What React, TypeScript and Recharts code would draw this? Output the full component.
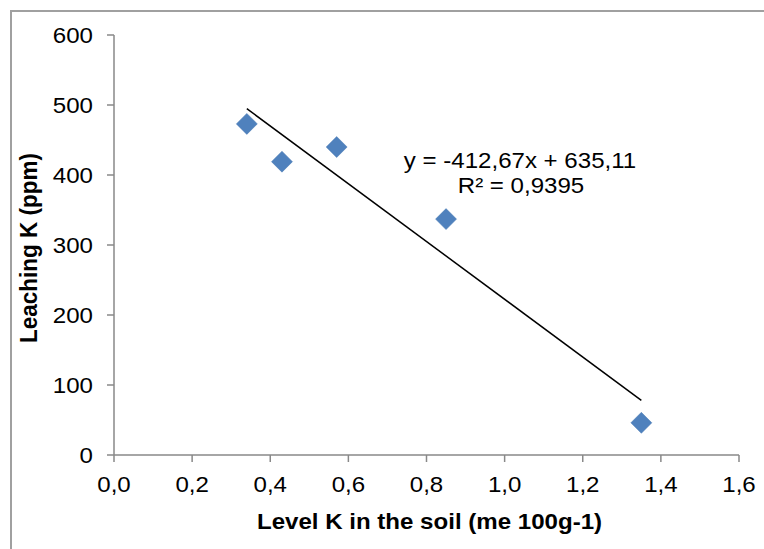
import React from 'react';
import { ScatterChart, Scatter, XAxis, YAxis, Customized } from 'recharts';

// Observed data points (Level K in soil, Leaching K)
const levelK = [0.34, 0.43, 0.57, 0.85, 1.35];
const leachingK = [473, 419, 440, 337, 46];

// Linear trendline from the chart's equation
const slope = -412.67;
const intercept = 635.11;
const trendX = [0.34, 1.35];

const xTicks = [0, 0.2, 0.4, 0.6, 0.8, 1.0, 1.2, 1.4, 1.6];
const yTicks = [0, 100, 200, 300, 400, 500, 600];

const equationText = 'y = -412,67x + 635,11';
const r2Text = 'R² = 0,9395';
const xLabel = 'Level K in the soil (me 100g-1)';
const yLabel = 'Leaching K (ppm)';

const points = levelK.map((x, i) => ({ x, y: leachingK[i] }));
const trend = trendX.map((x) => ({ x, y: slope * x + intercept }));

const FONT = '"Liberation Sans", Arial, sans-serif';
const AXIS_COLOR = '#898989';
const FS = 22.5;
const SX = 1.07;

const SText = (props: any) => {
  const { x, y, anchor = 'middle', bold = false, dy, rotate = false, children } = props;
  const t = rotate
    ? `translate(${x},${y}) scale(${SX},1) rotate(-90)`
    : `translate(${x},${y}) scale(${SX},1)`;
  return (
    <text
      transform={t}
      x={0}
      y={0}
      dy={dy}
      textAnchor={anchor}
      fontFamily={FONT}
      fontSize={FS}
      fontWeight={bold ? 'bold' : 'normal'}
      fill="#000"
    >
      {children}
    </text>
  );
};

const fmt = (v: number) => v.toFixed(1).replace('.', ',');

const XTick = (props: any) => {
  const { x, y, payload } = props;
  return (
    <SText x={x} y={y} anchor="middle" dy="0.71em">
      {fmt(payload.value)}
    </SText>
  );
};

const YTick = (props: any) => {
  const { x, y, payload } = props;
  return (
    <SText x={x} y={y} anchor="end" dy="0.355em">
      {String(payload.value)}
    </SText>
  );
};

const Diamond = (props: any) => {
  const { cx, cy } = props;
  if (cx == null || cy == null) return <g />;
  const r = 10.5;
  return (
    <polygon
      points={`${cx},${cy - r} ${cx + r},${cy} ${cx},${cy + r} ${cx - r},${cy}`}
      fill="#4F81BD"
      stroke="#4A7AB3"
      strokeWidth={0.5}
    />
  );
};

const NoShape = () => <g />;

const Annotation = () => (
  <g>
    <SText x={520} y={167.5}>{equationText}</SText>
    <SText x={521} y={193.3}>{r2Text}</SText>
  </g>
);

export default function App() {
  return (
    <div
      style={{
        position: 'absolute',
        left: 0,
        top: 0,
        width: 764,
        height: 549,
        background: '#fff',
        overflow: 'hidden',
      }}
    >
      <div
        style={{
          position: 'absolute',
          left: 10,
          top: 10,
          width: 800,
          height: 600,
          border: '2px solid #a0a0a0',
          boxSizing: 'border-box',
        }}
      />
      <div style={{ position: 'absolute', left: 0, top: 0 }}>
        <ScatterChart
          width={764}
          height={549}
          margin={{ top: 35, right: 25, bottom: 0, left: 0 }}
        >
          <XAxis
            type="number"
            dataKey="x"
            domain={[0, 1.6]}
            ticks={xTicks}
            height={94}
            tickSize={7}
            tickMargin={14}
            axisLine={{ stroke: AXIS_COLOR, strokeWidth: 1.5 }}
            tickLine={{ stroke: AXIS_COLOR, strokeWidth: 1.5 }}
            tick={<XTick />}
            allowDataOverflow
            label={{
              content: (p: any) => {
                const vb = p.viewBox || {};
                return (
                  <SText x={vb.x + vb.width / 2 + 3} y={vb.y + 74.3} bold>
                    {xLabel}
                  </SText>
                );
              },
            }}
          />
          <YAxis
            type="number"
            dataKey="y"
            domain={[0, 600]}
            ticks={yTicks}
            width={114}
            tickSize={7}
            tickMargin={14}
            axisLine={{ stroke: AXIS_COLOR, strokeWidth: 1.5 }}
            tickLine={{ stroke: AXIS_COLOR, strokeWidth: 1.5 }}
            tick={<YTick />}
            allowDataOverflow
            label={{
              content: (p: any) => {
                const vb = p.viewBox || {};
                return (
                  <SText x={vb.x + 37.3} y={vb.y + vb.height / 2 + 3} bold rotate>
                    {yLabel}
                  </SText>
                );
              },
            }}
          />
          <Scatter
            data={trend}
            line={{ stroke: '#000', strokeWidth: 1.5 }}
            shape={NoShape}
            isAnimationActive={false}
          />
          <Scatter data={points} shape={Diamond} isAnimationActive={false} />
          <Customized component={Annotation} />
        </ScatterChart>
      </div>
    </div>
  );
}
